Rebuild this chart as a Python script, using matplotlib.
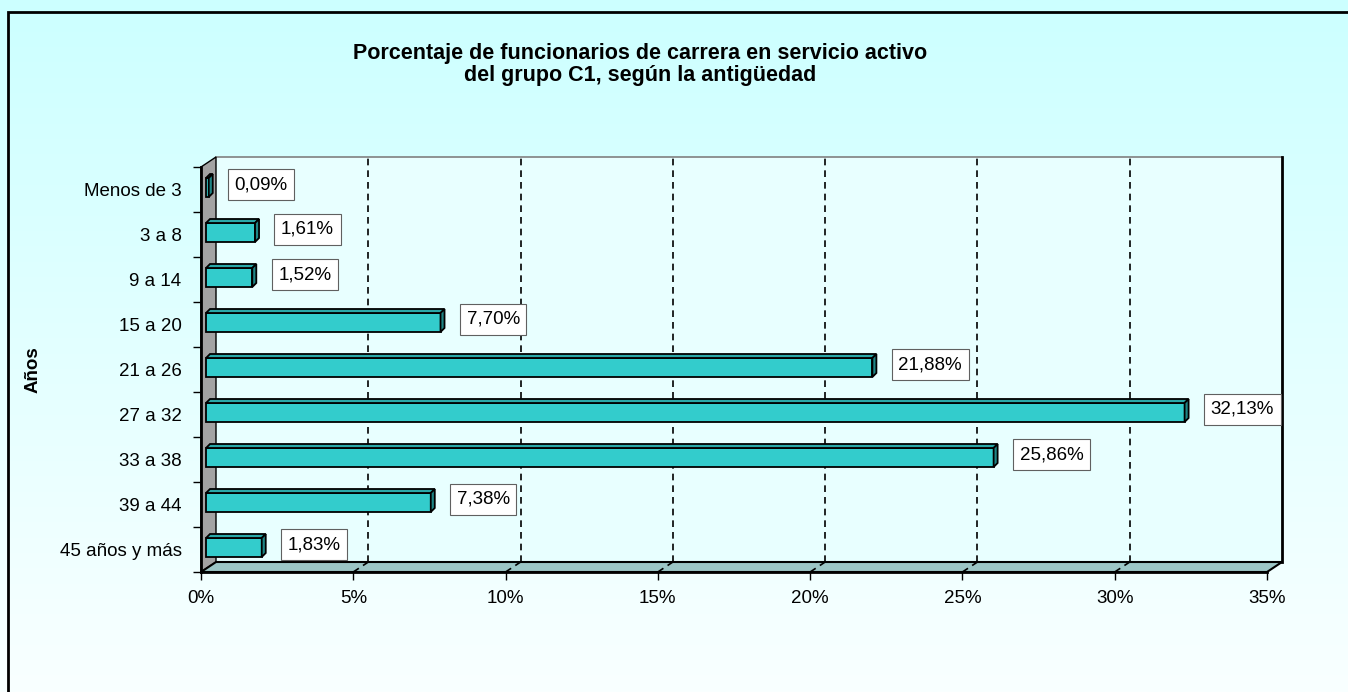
import matplotlib
matplotlib.use("Agg")
import matplotlib.pyplot as plt
import numpy as np
from matplotlib.patches import Polygon, Rectangle

plt.rcParams['font.family'] = ['Liberation Sans', 'DejaVu Sans']

categories = ["Menos de 3", "3 a 8", "9 a 14", "15 a 20", "21 a 26",
              "27 a 32", "33 a 38", "39 a 44", "45 años y más"]
values = [0.09, 1.61, 1.52, 7.70, 21.88, 32.13, 25.86, 7.38, 1.83]
labels = ["0,09%", "1,61%", "1,52%", "7,70%", "21,88%", "32,13%", "25,86%", "7,38%", "1,83%"]
xticks = [0, 5, 10, 15, 20, 25, 30, 35]
title_lines = ["Porcentaje de funcionarios de carrera en servicio activo",
               "del grupo C1, según la antigüedad"]

W, H = 1348, 692
fig = plt.figure(figsize=(W / 100, H / 100), dpi=100)

# background gradient + frame
bg = fig.add_axes([0, 0, 1, 1], zorder=-10)
grad = np.linspace(0, 1, 256).reshape(-1, 1)
top_c = np.array([0xCC, 0xFF, 0xFF]) / 255
bot_c = np.array([0xF9, 0xFF, 0xFF]) / 255
img = top_c[None, None, :] * (1 - grad[:, :, None]) + bot_c[None, None, :] * grad[:, :, None]
bg.imshow(img, aspect='auto', extent=[0, 1, 0, 1])
bg.set_axis_off()
fig.patches.append(Rectangle((8 / W, -0.1), 1.2, 1.1 - 12 / H, transform=fig.transFigure,
                             fill=False, ec='black', lw=2, zorder=5))

# front plane of the 3D plot
x0p, x1p, y0p, y1p = 201, 1267, 167, 572
ax = fig.add_axes([x0p / W, 1 - y1p / H, (x1p - x0p) / W, (y1p - y0p) / H])
ax.set_xlim(0, 35)
ax.set_ylim(8.5, -0.5)
ax.patch.set_alpha(0)
pxx = (x1p - x0p) / 35.0
pxy = (y1p - y0p) / 9.0

bx, by = 15 / pxx, -10 / pxy   # depth of the walls
ylo, yhi = 8.5, -0.5

# back wall
ax.add_patch(Polygon([(bx, ylo + by), (35 + bx, ylo + by), (35 + bx, yhi + by), (bx, yhi + by)],
                     closed=True, fc='#E8FFFF', ec='none', clip_on=False, zorder=0))
ax.plot([bx, 35 + bx], [yhi + by, yhi + by], color='#808080', lw=1.2, clip_on=False, zorder=1)
ax.plot([35 + bx, 35 + bx], [ylo + by, yhi + by], color='black', lw=2, clip_on=False, zorder=1)
# left wall
ax.add_patch(Polygon([(0, ylo), (0, yhi), (bx, yhi + by), (bx, ylo + by)],
                     closed=True, fc='#A3A3A3', ec='black', lw=1, clip_on=False, zorder=1))
# floor
ax.add_patch(Polygon([(0, ylo), (35, ylo), (35 + bx, ylo + by), (bx, ylo + by)],
                     closed=True, fc='#9CC6C6', ec='black', lw=1.5, clip_on=False, zorder=1))
# gridlines
for g in xticks[1:-1]:
    ax.plot([g + bx, g + bx], [ylo + by, yhi + by], color='black', lw=1.2,
            ls=(0, (4, 3)), clip_on=False, zorder=1)
    ax.plot([g, g + bx], [ylo, ylo + by], color='black', lw=1.2,
            ls=(0, (4, 3)), clip_on=False, zorder=1)

# bars
ox, oy = 5 / pxx, -2 / pxy
dx, dy = 4 / pxx, -4 / pxy
bh = 19 / pxy
for i, (v, lab) in enumerate(zip(values, labels)):
    xs = ox
    xe = ox + v
    yt = i + oy - bh / 2
    yb = i + oy + bh / 2
    ax.add_patch(Polygon([(xs, yb), (xe, yb), (xe, yt), (xs, yt)], closed=True,
                         fc='#33CCCC', ec='black', lw=1.3, zorder=3, clip_on=False))
    ax.add_patch(Polygon([(xs, yt), (xe, yt), (xe + dx, yt + dy), (xs + dx, yt + dy)], closed=True,
                         fc='#2AA8A8', ec='black', lw=1.3, zorder=3, clip_on=False))
    ax.add_patch(Polygon([(xe, yt), (xe, yb), (xe + dx, yb + dy), (xe + dx, yt + dy)], closed=True,
                         fc='#1F8585', ec='black', lw=1.3, zorder=3, clip_on=False))
    ax.text(xe + dx + 22 / pxx, i - 5 / pxy, lab, ha='left', va='center', fontsize=13.5,
            zorder=4, bbox=dict(boxstyle='square,pad=0.35', fc='white', ec='#606060', lw=0.8))

# axes, ticks
for s in ['top', 'right']:
    ax.spines[s].set_visible(False)
for s in ['left', 'bottom']:
    ax.spines[s].set_linewidth(2)
    ax.spines[s].set_zorder(2)
ax.set_xticks(xticks)
ax.set_xticklabels([f"{t}%" for t in xticks], fontsize=13.5)
ax.tick_params(axis='x', length=6, width=1, pad=7)
ax.set_yticks(range(len(categories)))
ax.set_yticklabels(categories, fontsize=13.5)
ax.set_yticks(np.arange(-0.5, 9, 1), minor=True)
ax.tick_params(axis='y', which='major', length=0, pad=14)
ax.tick_params(axis='y', which='minor', length=6, width=1)
ax.set_ylabel("Años", fontsize=13.5, fontweight='bold')
ax.yaxis.set_label_coords((42 - x0p) / (x1p - x0p), 0.5)

fig.text(640 / W, 1 - 54 / H, title_lines[0], ha='center', va='center', fontsize=15.5,
         fontweight='bold')
fig.text(640 / W, 1 - 76 / H, title_lines[1], ha='center', va='center', fontsize=15.5,
         fontweight='bold')

fig.savefig("out.png", dpi=100)
